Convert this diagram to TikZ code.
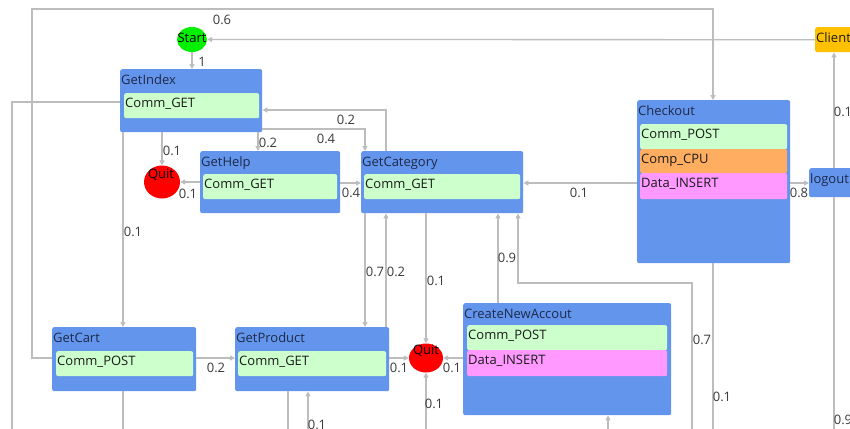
\documentclass[tikz,border=0pt]{standalone}
\usepackage{fontspec}
\setmainfont{Open Sans}
\usetikzlibrary{arrows.meta,shapes.geometric}
\definecolor{boxblue}{HTML}{6495ED}
\definecolor{rowgreen}{HTML}{CCFFCC}
\definecolor{roworange}{HTML}{FFAD60}
\definecolor{rowpink}{HTML}{FF99FF}
\definecolor{clientorange}{HTML}{FFC000}
\definecolor{startgreen}{HTML}{00F000}
\definecolor{quitred}{HTML}{FF0000}
\definecolor{conngray}{HTML}{BDBDBD}
\definecolor{titletext}{HTML}{1E2A48}
\definecolor{rowtext}{HTML}{1A1A1A}
\definecolor{labeltext}{HTML}{3A3A3A}
\tikzset{
  statebox/.style={fill=boxblue, rounded corners=2pt, inner sep=0pt, anchor=north west},
  rowbox/.style={rounded corners=2pt, inner sep=0pt, anchor=north west},
  titletxt/.style={anchor=base west, inner sep=0pt, font=\fontsize{13}{15}\selectfont, text=titletext},
  rowtxt/.style={anchor=base west, inner sep=0pt, font=\fontsize{13}{15}\selectfont, text=rowtext},
  probtxt/.style={inner sep=0pt, font=\fontsize{13}{15}\selectfont, text=labeltext},
  ovalnode/.style={ellipse, inner sep=0pt},
  ovaltxt/.style={anchor=base, inner sep=0pt, font=\fontsize{13}{15}\selectfont, text=black},
  conn/.style={draw=conngray, line width=1.3pt},
  conna/.style={conn, -{Triangle[length=5pt,width=5pt]}},
}
\newcommand\MkState[6]{%
  \node[statebox, minimum width=#4pt, minimum height=#5pt] (#1) at (#2,#3) {};
  \node[titletxt] (#1-title) at ({#2+1},{#3+15}) {#6};
}
\newcommand\MkRow[7]{%
  \node[rowbox, fill=#6, minimum width=#4pt, minimum height=#5pt] (#1) at (#2,#3) {};
  \node[rowtxt] (#1-text) at ({#2+1},{#3+14}) {#7};
}
\begin{document}
\begin{tikzpicture}[x=1pt,y=-1pt]
\useasboundingbox (0,0) rectangle (850,428);
\clip (0,0) rectangle (850,428);
\fill[white] (0,0) rectangle (850,428);

% ovals
\node[ovalnode, fill=startgreen, minimum width=30pt, minimum height=25pt] (Start) at (192,39.5) {};
\node[ovaltxt] (Start-text) at (192,43) {Start};
\node[ovalnode, fill=quitred, minimum width=36pt, minimum height=33pt] (Quit1) at (162,182) {};
\node[ovaltxt] (Quit1-text) at (161,178) {Quit};
\node[ovalnode, fill=quitred, minimum width=34pt, minimum height=29pt] (Quit2) at (426,358) {};
\node[ovaltxt] (Quit2-text) at (426,354) {Quit};

% client
\node[statebox, fill=clientorange, minimum width=60pt, minimum height=25pt] (Client) at (815,27) {};
\node[rowtxt] (Client-text) at (816,43) {Client};

% states
\MkState{GetIndex}{120}{69}{142}{63}{GetIndex}
\MkRow{GetIndex-r1}{124}{93}{135}{25}{rowgreen}{Comm\_GET}
\MkState{GetHelp}{200}{151}{140}{62}{GetHelp}
\MkRow{GetHelp-r1}{203}{174}{134}{25}{rowgreen}{Comm\_GET}
\MkState{GetCategory}{361}{151}{162}{62}{GetCategory}
\MkRow{GetCategory-r1}{364}{174}{156}{25}{rowgreen}{Comm\_GET}
\MkState{Checkout}{637}{100}{153}{163}{Checkout}
\MkRow{Checkout-r1}{640}{124}{147}{25}{rowgreen}{Comm\_POST}
\MkRow{Checkout-r2}{640}{149}{147}{24}{roworange}{Comp\_CPU}
\MkRow{Checkout-r3}{640}{173}{147}{26}{rowpink}{Data\_INSERT}
\MkState{GetCart}{52}{327}{144}{64}{GetCart}
\MkRow{GetCart-r1}{56}{351}{137}{25}{rowgreen}{Comm\_POST}
\MkState{GetProduct}{235}{327}{154}{64}{GetProduct}
\MkRow{GetProduct-r1}{238}{351}{148}{25}{rowgreen}{Comm\_GET}
\MkState{CreateNewAccout}{463}{303}{208}{112}{CreateNewAccout}
\MkRow{CNA-r1}{467}{325}{200}{25}{rowgreen}{Comm\_POST}
\MkRow{CNA-r2}{467}{350}{200}{26}{rowpink}{Data\_INSERT}
\MkState{logout}{809}{168}{60}{29}{logout}

% free ends below the picture
\coordinate (offA) at (12,440);
\coordinate (offB) at (834,440);
\coordinate (offC) at (713,440);
\coordinate (offD) at (692,440);
\coordinate (offE) at (426,440);
\coordinate (offF) at (123,440);
\coordinate (offG) at (288,440);
\coordinate (offH) at (308,440);
\coordinate (offI) at (608,440);

% connectors
\draw[conna] (Client.west) -- (Start.east);
\draw[conna] (Start.south) -- (Start.south |- GetIndex.north);
\draw[conna] (Quit1.north |- GetIndex.south) -- (Quit1.north);
\draw[conna] (258,0 |- GetIndex.south) -- (258,0 |- GetHelp.north);
\draw[conna] (123,0 |- GetIndex.south) -- (123,0 |- GetCart.north);
\draw[conn] (GetIndex.west |- 0,102) -- (12,102) -- (offA);
\draw[conna] (GetCart.west |- 0,358) -- (32,358) -- (32,9) -- (713,9) -- (713,0 |- Checkout.north);
\draw[conna] (386,0 |- GetCategory.north) -- (386,110) -- (GetIndex.east |- 0,110);
\draw[conna] (GetIndex.east |- 0,129) -- (365,129) -- (365,0 |- GetCategory.north);
\draw[conna] (GetHelp.west |- Quit1.east) -- (Quit1.east);
\draw[conna] (GetHelp.east |- 0,183) -- (GetCategory.west |- 0,183);
\draw[conna] (Checkout.west |- 0,183) -- (GetCategory.east |- 0,183);
\draw[conna] (Checkout.east |- 0,183) -- (logout.west |- 0,183);
\draw[conna] (834,0 |- logout.north) -- (834,0 |- Client.south);
\draw[conn] (834,0 |- logout.south) -- (offB);
\draw[conn] (713,0 |- Checkout.south) -- (offC);
\draw[conna] (365,0 |- GetCategory.south) -- (365,0 |- GetProduct.north);
\draw[conna] (386,0 |- GetProduct.north) -- (386,0 |- GetCategory.south);
\draw[conna] (Quit2.north |- GetCategory.south) -- (Quit2.north);
\draw[conna] (498,0 |- CreateNewAccout.north) -- (498,0 |- GetCategory.south);
\draw[conna] (offD) -- (692,283) -- (518,283) -- (518,0 |- GetCategory.south);
\draw[conna] (GetProduct.east |- Quit2.west) -- (Quit2.west);
\draw[conna] (CreateNewAccout.west |- Quit2.east) -- (Quit2.east);
\draw[conna] (offE) -- (Quit2.south);
\draw[conna] (GetCart.east |- 0,358) -- (GetProduct.west |- 0,358);
\draw[conn] (123,0 |- GetCart.south) -- (offF);
\draw[conn] (288,0 |- GetProduct.south) -- (offG);
\draw[conna] (offH) -- (308,0 |- GetProduct.south);
\draw[conna] (offI) -- (608,0 |- CreateNewAccout.south);

% probabilities
\node[probtxt] (p1) at (222,20) {0.6};
\node[probtxt] (p2) at (202,62) {1};
\node[probtxt] (p3) at (172,151) {0.1};
\node[probtxt] (p4) at (268,143) {0.2};
\node[probtxt] (p5) at (346,120) {0.2};
\node[probtxt] (p6) at (326,139) {0.4};
\node[probtxt] (p7) at (188,194) {0.1};
\node[probtxt] (p8) at (351,193) {0.4};
\node[probtxt] (p9) at (579,193) {0.1};
\node[probtxt] (p10) at (799,193) {0.8};
\node[probtxt] (p11) at (843,112) {0.1};
\node[probtxt] (p12) at (133,232) {0.1};
\node[probtxt] (p13) at (216,368) {0.2};
\node[probtxt] (p14) at (375,272) {0.7};
\node[probtxt] (p15) at (396,272) {0.2};
\node[probtxt] (p16) at (436,281) {0.1};
\node[probtxt] (p17) at (507,258) {0.9};
\node[probtxt] (p18) at (399,368) {0.1};
\node[probtxt] (p19) at (452,368) {0.1};
\node[probtxt] (p20) at (434,404) {0.1};
\node[probtxt] (p21) at (702,340) {0.7};
\node[probtxt] (p22) at (722,397) {0.1};
\node[probtxt] (p23) at (843,420) {0.9};
\node[probtxt] (p24) at (317,425) {0.1};
\end{tikzpicture}
\end{document}
